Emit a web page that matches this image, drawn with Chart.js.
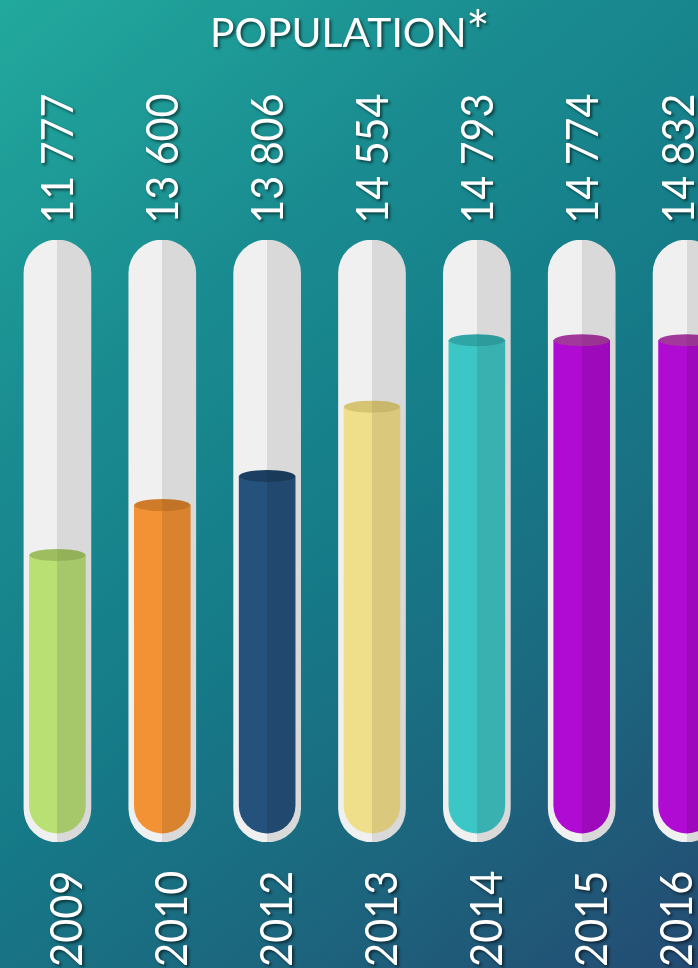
<!DOCTYPE html>
<html>
<head>
<meta charset="utf-8">
<script src="https://cdn.jsdelivr.net/npm/chart.js@4/dist/chart.umd.min.js"></script>
<style>
  html, body { margin: 0; padding: 0; }
  body {
    width: 698px; height: 968px; overflow: hidden;
    background: linear-gradient(140deg, #22a99d 0%, #1a8d91 28%, #157c88 52%, #1b6a80 72%, #244b72 100%);
  }
  #wrap { position: absolute; left: 0; top: 0; width: 744px; height: 968px; }
  canvas { display: block; }
</style>
</head>
<body>
<div id="wrap"><canvas id="c" width="744" height="968"></canvas></div>
<script>
// ---- data ----
const title = 'POPULATION';
const titleMark = '*';
const years = ['2009', '2010', '2012', '2013', '2014', '2015', '2016'];
const population = [11777, 13600, 13806, 14554, 14793, 14774, 14832];
// how full each tube is drawn in the picture (percent of tube height)
const fillLevel = [46.9, 55.3, 60.2, 71.9, 83.1, 83.1, 83.1];
const tubeCapacity = [100, 100, 100, 100, 100, 100, 100];

// ---- styles ----
const fillLight = ['#b9e072', '#f29234', '#24527c', '#f0df8a', '#3dc6c6', '#b00bd2', '#b00bd2'];
const fillDark  = ['#a7c86a', '#d9832f', '#21496f', '#dac97d', '#3ab1b1', '#9e0abb', '#9e0abb'];
const capColor  = ['#9dbd5e', '#cf7b2a', '#1c3e60', '#d6c473', '#30a5a5', '#a3389c', '#a3389c'];
const tubeLight = '#f0f0f0';
const tubeDark = '#d9d9d9';
const FONT = 'Lato, "Open Sans", sans-serif';
const VISIBLE_W = 698;

function fmt(v) { return String(v).replace(/\B(?=(\d{3})+(?!\d))/g, ' '); }

function splitGradient(chart, idx, light, dark) {
  const sc = chart.scales && chart.scales.x;
  const x = sc ? sc.getPixelForValue(idx) : NaN;
  if (!isFinite(x)) return light;
  const g = chart.ctx.createLinearGradient(x - 40, 0, x + 40, 0);
  g.addColorStop(0, light); g.addColorStop(0.5, light);
  g.addColorStop(0.5, dark); g.addColorStop(1, dark);
  return g;
}

function shadowOn(ctx) {
  ctx.shadowColor = 'rgba(0,0,0,0.55)';
  ctx.shadowOffsetX = 2; ctx.shadowOffsetY = 2; ctx.shadowBlur = 3;
}

function inkWidth(ctx, t) {
  const m = ctx.measureText(t);
  return { w: m.actualBoundingBoxLeft + m.actualBoundingBoxRight, l: m.actualBoundingBoxLeft };
}

// draw text reading bottom-to-top, ink starting at startY, baseline at baseX
function drawUp(ctx, text, baseX, startY, scale) {
  ctx.save();
  ctx.translate(baseX, startY);
  ctx.rotate(-Math.PI / 2);
  ctx.scale(scale, 1);
  const m = inkWidth(ctx, text);
  ctx.fillText(text, m.l, 0);
  ctx.restore();
}

const decor = {
  id: 'tubeDecor',
  afterDatasetsDraw(chart) {
    const ctx = chart.ctx;
    const meta = chart.getDatasetMeta(1);
    // liquid surface caps
    meta.data.forEach((bar, i) => {
      const rx = bar.width / 2, ry = 6;
      ctx.save();
      ctx.beginPath();
      ctx.ellipse(bar.x, bar.y, rx, ry, 0, 0, Math.PI * 2);
      ctx.fillStyle = capColor[i];
      ctx.fill();
      ctx.beginPath();
      ctx.ellipse(bar.x, bar.y, rx, ry, 0, -Math.PI / 2, Math.PI / 2);
      ctx.closePath();
      ctx.fillStyle = 'rgba(0,0,0,0.06)';
      ctx.fill();
      ctx.restore();
    });
  },
  afterDraw(chart) {
    const ctx = chart.ctx;
    const xs = chart.scales.x;
    ctx.save();
    ctx.fillStyle = '#ffffff';
    shadowOn(ctx);
    ctx.textAlign = 'left';
    ctx.textBaseline = 'alphabetic';

    // title
    ctx.font = '40px ' + FONT;
    const tm = inkWidth(ctx, title);
    const ts = 250 / tm.w;
    ctx.save();
    ctx.translate(213, 47);
    ctx.scale(ts, 1);
    ctx.fillText(title, tm.l, 0);
    ctx.restore();
    ctx.font = '56px ' + FONT;
    ctx.fillText(titleMark, 466, 51);

    // value labels (kept inside the visible width)
    ctx.font = '44px ' + FONT;
    const vs = 127 / inkWidth(ctx, fmt(population[1])).w;
    population.forEach((v, i) => {
      const x = xs.getPixelForValue(i);
      drawUp(ctx, fmt(v), Math.min(x + 16, VISIBLE_W - 4), 221, vs);
    });

    // year labels
    const ys = 92 / inkWidth(ctx, years[0]).w;
    years.forEach((y, i) => {
      const x = xs.getPixelForValue(i);
      drawUp(ctx, y, Math.min(x + 25, VISIBLE_W - 6), 965, ys);
    });
    ctx.restore();
  }
};

function build() {
  new Chart(document.getElementById('c'), {
    type: 'bar',
    data: {
      labels: years,
      datasets: [
        {
          label: 'tube',
          data: tubeCapacity,
          base: -1.5,
          order: 2,
          grouped: false,
          barThickness: 67,
          borderSkipped: false,
          borderRadius: 34,
          borderWidth: 0,
          backgroundColor: (c) => splitGradient(c.chart, c.dataIndex, tubeLight, tubeDark)
        },
        {
          label: 'population level',
          data: fillLevel,
          order: 1,
          grouped: false,
          barThickness: 56,
          borderSkipped: false,
          borderRadius: { topLeft: 0, topRight: 0, bottomLeft: 28, bottomRight: 28 },
          borderWidth: 0,
          backgroundColor: (c) => splitGradient(c.chart, c.dataIndex, fillLight[c.dataIndex], fillDark[c.dataIndex])
        }
      ]
    },
    options: {
      responsive: false,
      animation: false,
      devicePixelRatio: 1,
      layout: { padding: { top: 240, bottom: 126, left: 5, right: 5 } },
      plugins: { legend: { display: false }, tooltip: { enabled: false }, title: { display: false } },
      scales: {
        x: { display: false },
        y: { display: false, min: -1.5, max: 100 }
      }
    },
    plugins: [decor]
  });
}

const loads = document.fonts ? Promise.all([
  document.fonts.load('40px Lato'), document.fonts.load('44px Lato'), document.fonts.load('56px Lato')
]).catch(() => {}) : Promise.resolve();
Promise.race([loads, new Promise(r => setTimeout(r, 800))]).then(build);
</script>
</body>
</html>
